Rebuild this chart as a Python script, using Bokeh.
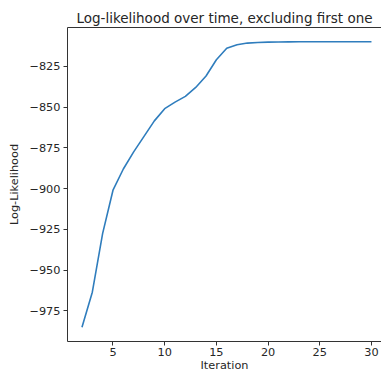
from bokeh.plotting import figure
from bokeh.models import FixedTicker, LinearAxis, Range1d
from bokeh.embed import file_html
from bokeh.resources import INLINE

iterations = list(range(2, 31))
log_likelihood = [-985.0, -963.5, -927.5, -901.0, -888.0, -877.5, -868.0, -858.5,
                  -851.0, -847.0, -843.5, -838.0, -831.0, -821.0, -814.0, -811.8,
                  -810.8, -810.4, -810.2, -810.1, -810.05, -810.0, -810.0, -810.0,
                  -810.0, -810.0, -810.0, -810.0, -810.0]
x_ticks = [5, 10, 15, 20, 25, 30]
y_ticks = [-825, -850, -875, -900, -925, -950, -975]
y_tick_labels = ["\u2212825", "\u2212850", "\u2212875", "\u2212900", "\u2212925", "\u2212950", "\u2212975"]
title_text = "Log-likelihood over time, excluding first one"
x_label = "Iteration"
y_label = "Log-Likelihood"

FONT = "DejaVu Sans"
TXT = "#262626"

p = figure(width=381, height=375, output_backend="svg", toolbar_location=None,
           x_range=Range1d(0.6, 30.97), y_range=Range1d(-993.75, -801.25),
           min_border_left=67, min_border_right=0, min_border_top=27, min_border_bottom=34)

p.line(iterations, log_likelihood, line_color="#2f7dbd", line_width=1.6)

p.title.text = title_text
p.title.align = "center"
p.title.text_font = FONT
p.title.text_font_size = "13.5px"
p.title.text_font_style = "normal"
p.title.text_color = TXT
p.title.offset = 0
p.title.standoff = 4

p.grid.visible = False
p.outline_line_color = None
p.background_fill_color = "white"
p.border_fill_color = "white"

for ax in (p.xaxis[0], p.yaxis[0]):
    ax.major_label_text_font = FONT
    ax.major_label_text_font_size = "11.3px"
    ax.major_label_text_color = TXT
    ax.axis_label_text_font = FONT
    ax.axis_label_text_font_size = "11.3px"
    ax.axis_label_text_font_style = "normal"
    ax.axis_label_text_color = TXT
    ax.axis_line_color = "#333333"
    ax.axis_line_width = 1
    ax.major_tick_line_color = "#333333"
    ax.major_tick_in = 0
    ax.major_tick_out = 4
    ax.minor_tick_line_color = None
    ax.major_label_standoff = 3

p.xaxis[0].ticker = FixedTicker(ticks=x_ticks)
p.yaxis[0].ticker = FixedTicker(ticks=y_ticks)
p.yaxis[0].major_label_overrides = dict(zip(y_ticks, y_tick_labels))
p.xaxis[0].axis_label = x_label
p.yaxis[0].axis_label = y_label
p.xaxis[0].major_label_standoff = 2
p.xaxis[0].axis_label_standoff = 0
p.yaxis[0].axis_label_standoff = 5

top = LinearAxis(major_tick_line_color=None, minor_tick_line_color=None,
                 major_label_text_font_size="0px", axis_line_color="#333333",
                 ticker=FixedTicker(ticks=[]))
top.major_label_standoff = 0
p.add_layout(top, "above")

open("out.html", "w").write(file_html(p, INLINE))
